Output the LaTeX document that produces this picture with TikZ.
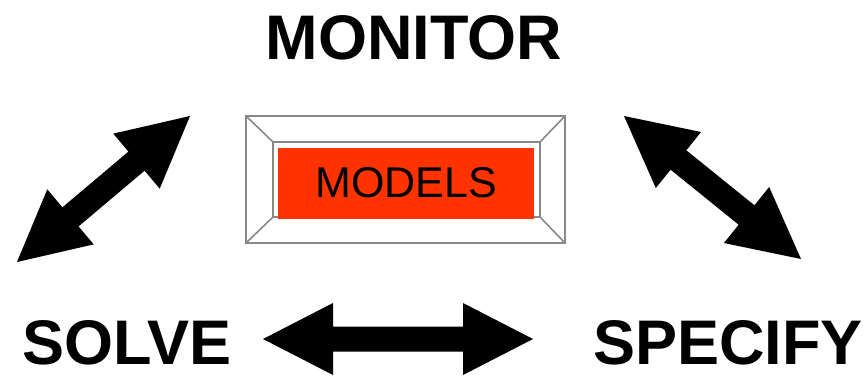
\documentclass[tikz,border=0pt]{standalone}
\usepackage{fontspec}
\setmainfont{Liberation Sans}
\usepackage{tikz}
\usetikzlibrary{calc}
\definecolor{modelred}{RGB}{255,51,0}
\definecolor{bevelgray}{RGB}{136,136,136}

% fat two-headed block arrow between two points
\newcommand{\blockarrow}[2]{%
  \fill[black] (#1)
    -- ($(#1)!70pt!(#2)!36pt!90:(#2)$)
    -- ($(#1)!70pt!(#2)!12.5pt!90:(#2)$)
    -- ($(#2)!70pt!(#1)!12.5pt!-90:(#1)$)
    -- ($(#2)!70pt!(#1)!36pt!-90:(#1)$)
    -- (#2)
    -- ($(#2)!70pt!(#1)!36pt!90:(#1)$)
    -- ($(#2)!70pt!(#1)!12.5pt!90:(#1)$)
    -- ($(#1)!70pt!(#2)!12.5pt!-90:(#2)$)
    -- ($(#1)!70pt!(#2)!36pt!-90:(#2)$)
    -- cycle;}

\begin{document}
\begin{tikzpicture}[x=1pt, y=-1pt,
  task/.style={font=\fontsize{63}{63}\selectfont\bfseries, anchor=base, inner sep=0pt},
  bevel/.style={draw=bevelgray, line width=1.6pt}]
  \useasboundingbox (0,0) rectangle (865,375);

  % the three labels
  \node[task] (monitor) at (414,59) {MONITOR};
  \node[task] (solve) at (127,364) {SOLVE};
  \node[task] (specify) at (728,364) {SPECIFY};

  % bevelled frame round the models box
  \draw[bevel] (246,116) rectangle (565,243);
  \draw[bevel] (273,142) rectangle (540,217);
  \draw[bevel] (246,116) -- (273,142);
  \draw[bevel] (565,116) -- (540,142);
  \draw[bevel] (246,243) -- (273,217);
  \draw[bevel] (565,243) -- (540,217);
  \node[fill=modelred, minimum width=256pt, minimum height=71pt, inner sep=0pt,
        font=\fontsize{43}{43}\selectfont] (models) at (406,183) {MODELS};

  % arrow ends
  \coordinate (solveEnd) at (17,262);
  \coordinate (monitorL) at (190,116);
  \coordinate (monitorR) at (624,116);
  \coordinate (specifyEnd) at (801,259);
  \coordinate (solveR) at (263,339);
  \coordinate (specifyL) at (533,339);

  \blockarrow{solveEnd}{monitorL}
  \blockarrow{monitorR}{specifyEnd}
  \blockarrow{solveR}{specifyL}
\end{tikzpicture}
\end{document}
